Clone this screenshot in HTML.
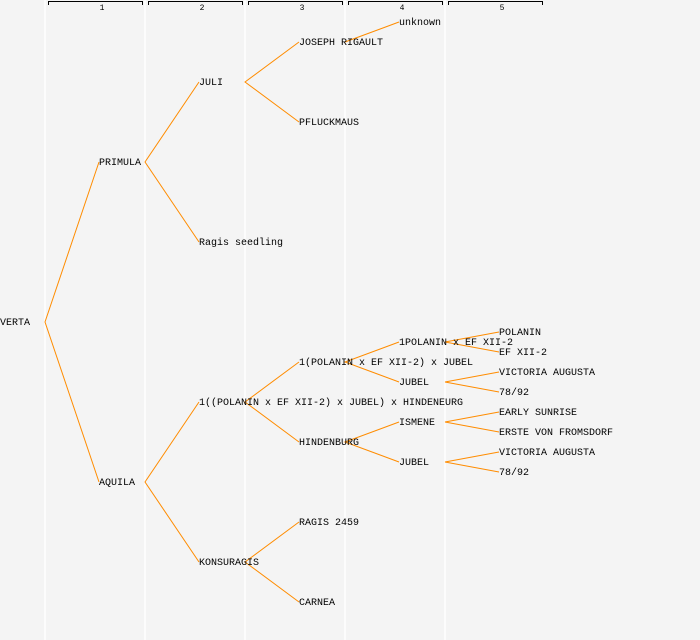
<!DOCTYPE html>
<html><head><style>
html,body{margin:0;padding:0;background:#f4f4f4;}
svg{display:block;}
text{font-family:"Liberation Mono",monospace;font-size:10px;fill:#000;}
.h{font-size:8px;text-anchor:middle;}
</style></head><body>
<svg width="700" height="640" viewBox="0 0 700 640">
<rect width="700" height="640" fill="#f4f4f4"/>
<g stroke="#ffffff" stroke-width="1.5">
<line x1="45" y1="0" x2="45" y2="640"/><line x1="145" y1="0" x2="145" y2="640"/>
<line x1="245" y1="0" x2="245" y2="640"/><line x1="345" y1="0" x2="345" y2="640"/>
<line x1="445" y1="0" x2="445" y2="640"/>
</g>
<g stroke="#000" fill="none" stroke-width="1">
<path d="M48.5 5V1.5H142.5V5"/><path d="M148.5 5V1.5H242.5V5"/><path d="M248.5 5V1.5H342.5V5"/><path d="M348.5 5V1.5H442.5V5"/><path d="M448.5 5V1.5H542.5V5"/>
</g>
<text class="h" x="102" y="10">1</text><text class="h" x="202" y="10">2</text><text class="h" x="302" y="10">3</text><text class="h" x="402" y="10">4</text><text class="h" x="502" y="10">5</text>
<g stroke="#ff8c00" stroke-width="1" fill="none">
<path d="M99 162L45 322L99 482"/>
<path d="M199 82L145 162L199 242"/>
<path d="M299 42L245 82L299 122"/>
<path d="M399 22L345 42"/>
<path d="M199 402L145 482L199 562"/>
<path d="M299 362L245 402L299 442"/>
<path d="M299 522L245 562L299 602"/>
<path d="M399 342L345 362L399 382"/>
<path d="M399 422L345 442L399 462"/>
<path d="M499 332L445 342L499 352"/>
<path d="M499 372L445 382L499 392"/>
<path d="M499 412L445 422L499 432"/>
<path d="M499 452L445 462L499 472"/>
</g>
<g dominant-baseline="central" transform="translate(0,1.5)">
<text x="0" y="322">VERTA</text>
<text x="99" y="162">PRIMULA</text>
<text x="99" y="482">AQUILA</text>
<text x="199" y="82">JULI</text>
<text x="199" y="242">Ragis seedling</text>
<text x="199" y="402">1((POLANIN x EF XII-2) x JUBEL) x HINDENEURG</text>
<text x="199" y="562">KONSURAGIS</text>
<text x="299" y="42">JOSEPH RIGAULT</text>
<text x="299" y="122">PFLUCKMAUS</text>
<text x="299" y="362">1(POLANIN x EF XII-2) x JUBEL</text>
<text x="299" y="442">HINDENBURG</text>
<text x="299" y="522">RAGIS 2459</text>
<text x="299" y="602">CARNEA</text>
<text x="399" y="22">unknown</text>
<text x="399" y="342">1POLANIN x EF XII-2</text>
<text x="399" y="382">JUBEL</text>
<text x="399" y="422">ISMENE</text>
<text x="399" y="462">JUBEL</text>
<text x="499" y="332">POLANIN</text>
<text x="499" y="352">EF XII-2</text>
<text x="499" y="372">VICTORIA AUGUSTA</text>
<text x="499" y="392">78/92</text>
<text x="499" y="412">EARLY SUNRISE</text>
<text x="499" y="432">ERSTE VON FROMSDORF</text>
<text x="499" y="452">VICTORIA AUGUSTA</text>
<text x="499" y="472">78/92</text>
</g>
</svg>
</body></html>
